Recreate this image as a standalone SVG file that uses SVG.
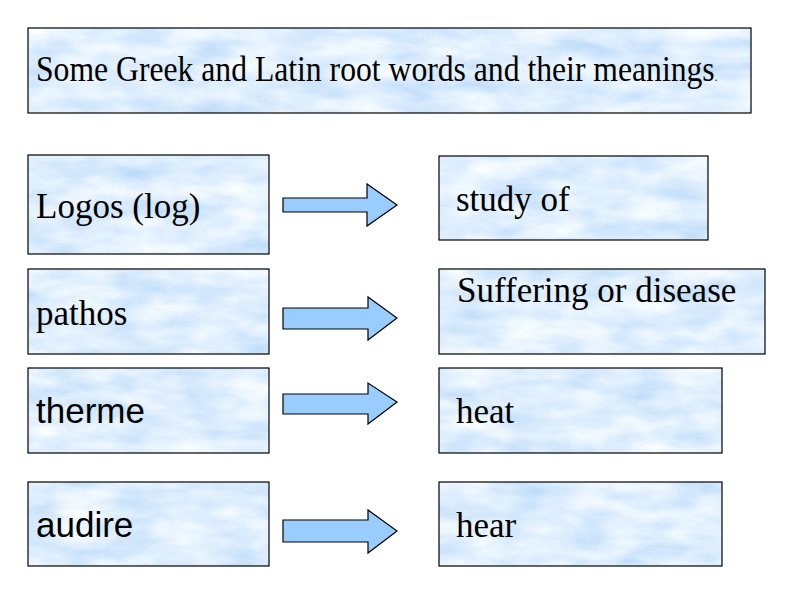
<svg xmlns="http://www.w3.org/2000/svg" width="794" height="595" viewBox="0 0 794 595">
<style>
.box{filter:url(#cloud);fill:#cfe4fb}
.frame{fill:none;stroke:#000;stroke-width:1.2}
.serif{font-family:"Liberation Serif","Times New Roman",serif;font-size:35px;fill:#000}
.sans{font-family:"Liberation Sans",Arial,sans-serif;font-size:35px;fill:#000}
.arrow{fill:#99ccff;stroke:#000;stroke-width:1.2;stroke-linejoin:miter}
</style>
<defs>
<filter id="cloud" x="0" y="0" width="1" height="1" filterUnits="objectBoundingBox">
<feTurbulence type="fractalNoise" baseFrequency="0.018 0.05" numOctaves="3" seed="3" result="n"/>
<feColorMatrix in="n" type="matrix" values="0.6 0 0 0 0.44  0.38 0 0 0 0.67  0.1 0 0 0 0.94  0 0 0 0 1" result="c"/>
<feComposite in="c" in2="SourceGraphic" operator="in"/>
</filter>
</defs>
<rect width="794" height="595" fill="#fff"/>
<g id="title">
<rect class="box" x="28" y="28" width="723" height="85"/>
<rect class="frame" x="28" y="28" width="723" height="85"/>
<text class="serif" x="0" y="0" font-size="30" transform="translate(36,81) scale(0.905,1)">Some Greek and Latin root words and their meanings<tspan font-size="12">.</tspan></text>
</g>
<g id="logos">
<rect class="box" x="28" y="155" width="241" height="99"/>
<rect class="frame" x="28" y="155" width="241" height="99"/>
<text class="serif" x="36" y="218">Logos (log)</text>
</g>
<g id="study">
<rect class="box" x="439" y="156" width="269" height="84"/>
<rect class="frame" x="439" y="156" width="269" height="84"/>
<text class="serif" x="456" y="211">study of</text>
</g>
<g id="pathos">
<rect class="box" x="28" y="269" width="241" height="85"/>
<rect class="frame" x="28" y="269" width="241" height="85"/>
<text class="serif" x="36" y="325">pathos</text>
</g>
<g id="suffering">
<rect class="box" x="439" y="269" width="326" height="85"/>
<rect class="frame" x="439" y="269" width="326" height="85"/>
<text class="serif" x="457" y="302" font-size="34">Suffering or disease</text>
</g>
<g id="therme">
<rect class="box" x="28" y="368" width="241" height="85"/>
<rect class="frame" x="28" y="368" width="241" height="85"/>
<text class="sans" x="36" y="423">therme</text>
</g>
<g id="heat">
<rect class="box" x="439" y="368" width="283" height="85"/>
<rect class="frame" x="439" y="368" width="283" height="85"/>
<text class="serif" x="456" y="423">heat</text>
</g>
<g id="audire">
<rect class="box" x="28" y="482" width="241" height="84"/>
<rect class="frame" x="28" y="482" width="241" height="84"/>
<text class="sans" x="36" y="537">audire</text>
</g>
<g id="hear">
<rect class="box" x="439" y="482" width="283" height="84"/>
<rect class="frame" x="439" y="482" width="283" height="84"/>
<text class="serif" x="456" y="537">hear</text>
</g>
<g id="connectors">
<polygon class="arrow" points="283,198 367,198 367,184 397,205 367,226 367,212 283,212"/>
<polygon class="arrow" points="283,308 368,308 368,297 397,318 368,340 368,329 283,329"/>
<polygon class="arrow" points="283,394 368,394 368,383 397,402 368,424 368,414 283,414"/>
<polygon class="arrow" points="283,520 368,520 368,510 397,531 368,553 368,542 283,542"/>
</g>
</svg>
